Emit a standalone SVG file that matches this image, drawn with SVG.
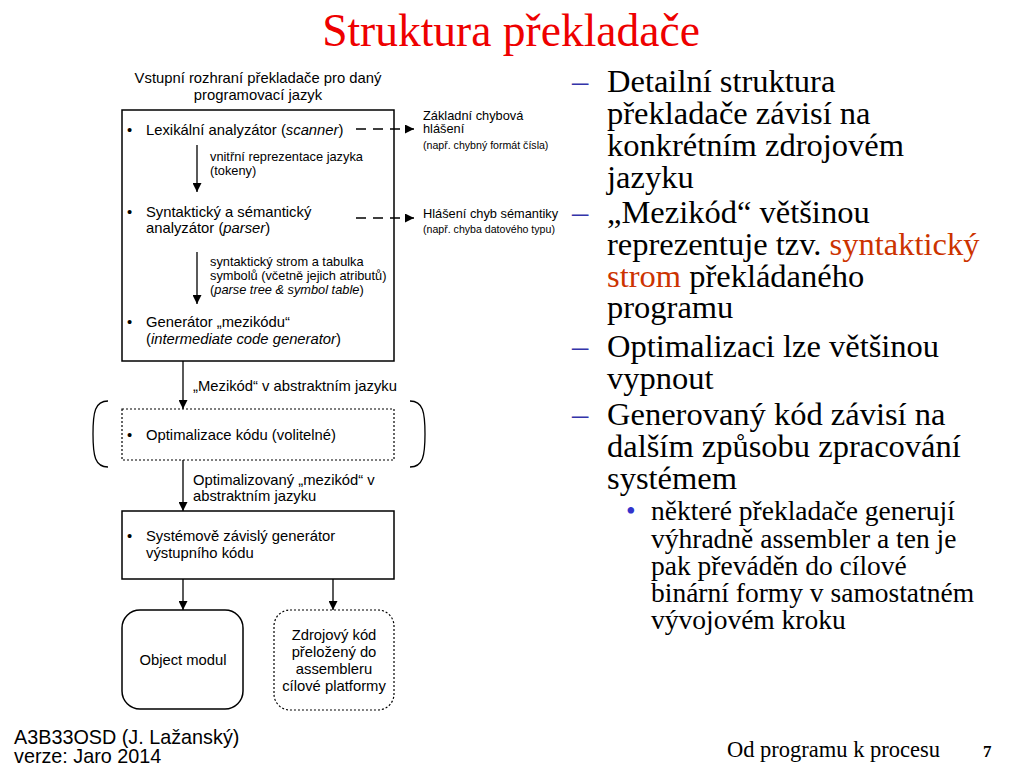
<svg xmlns="http://www.w3.org/2000/svg" width="1024" height="768" viewBox="0 0 1024 768">
<defs>
<marker id="ah" viewBox="0 0 10 10" refX="10" refY="5" markerWidth="9" markerHeight="9" markerUnits="userSpaceOnUse" orient="auto"><path d="M0,0 L10,5 L0,10 z" fill="#000"/></marker>
<style>
.d{font-family:"Liberation Sans",Arial,sans-serif;font-size:14.8px;fill:#000}
.s{font-family:"Liberation Sans",Arial,sans-serif;font-size:12.8px;fill:#000}
.xs{font-family:"Liberation Sans",Arial,sans-serif;font-size:10.6px;fill:#000}
.r{font-family:"Liberation Serif","Times New Roman",serif;font-size:32.5px;fill:#000}
.rs{font-family:"Liberation Serif","Times New Roman",serif;font-size:27.5px;fill:#000}
.box{fill:#fff;stroke:#000;stroke-width:1.5}
.dot{fill:#fff;stroke:#000;stroke-width:1.2;stroke-dasharray:2 2}
.ln{stroke:#000;stroke-width:1.3;fill:none}
.dl{stroke:#000;stroke-width:1.3;fill:none;stroke-dasharray:10 7}
.f{font-family:"Liberation Sans",Arial,sans-serif;font-size:19.8px;fill:#000}
</style>
</defs>
<rect width="1024" height="768" fill="#fff"/>
<text x="511" y="46" text-anchor="middle" style="font-family:'Liberation Serif','Times New Roman',serif;font-size:45.5px;fill:#ee0000">Struktura překladače</text>

<g id="input-label">
<text class="d" x="258" y="83" text-anchor="middle">Vstupní rozhraní překladače pro daný</text>
<text class="d" x="258" y="100" text-anchor="middle">programovací jazyk</text>
</g>

<g id="front-end">
<rect class="box" x="122" y="110" width="272" height="251"/>
<text class="d" x="127" y="135">•</text>
<text class="d" x="146" y="135">Lexikální analyzátor (<tspan font-style="italic">scanner</tspan>)</text>
<text class="s" x="210" y="161">vnitřní reprezentace jazyka</text>
<text class="s" x="210" y="175">(tokeny)</text>
<text class="d" x="127" y="217">•</text>
<text class="d" x="146" y="217">Syntaktický a sémantický</text>
<text class="d" x="146" y="233">analyzátor (<tspan font-style="italic">parser</tspan>)</text>
<text class="s" x="210" y="266">syntaktický strom a tabulka</text>
<text class="s" x="210" y="280">symbolů (včetně jejich atributů)</text>
<text class="s" x="210" y="294">(<tspan font-style="italic">parse tree &amp; symbol table</tspan>)</text>
<text class="d" x="127" y="327">•</text>
<text class="d" x="146" y="327">Generátor „mezikódu“</text>
<text class="d" x="146" y="344">(<tspan font-style="italic">intermediate code generator</tspan>)</text>
</g>

<g id="err-lex">
<text class="s" x="423" y="120">Základní chybová</text>
<text class="s" x="423" y="133">hlášení</text>
<text class="xs" x="423" y="149">(např. chybný formát čísla)</text>
</g>
<g id="err-sem">
<text class="s" x="423" y="218">Hlášení chyb sémantiky</text>
<text class="xs" x="423" y="233">(např. chyba datového typu)</text>
</g>

<g id="optimizer">
<path class="ln" d="M108,401 C95,401 93,412 93,434 C93,456 95,467 108,467"/>
<path class="ln" d="M410,401 C423,401 425,412 425,434 C425,456 423,467 410,467"/>
<rect class="dot" x="122" y="409" width="272" height="51"/>
<text class="d" x="127" y="440">•</text>
<text class="d" x="146" y="440">Optimalizace kódu (volitelné)</text>
</g>

<g id="backend">
<rect class="box" x="122" y="511" width="272" height="68"/>
<text class="d" x="127" y="541">•</text>
<text class="d" x="146" y="541">Systémově závislý generátor</text>
<text class="d" x="146" y="558">výstupního kódu</text>
</g>

<g id="object-modul">
<rect class="box" x="122" y="610" width="121" height="99" rx="18"/>
<text class="d" x="183" y="665" text-anchor="middle">Object modul</text>
</g>

<g id="asm-source">
<rect class="dot" x="274" y="610" width="120" height="100" rx="16"/>
<text class="d" x="334" y="640" text-anchor="middle">Zdrojový kód</text>
<text class="d" x="334" y="657" text-anchor="middle">přeložený do</text>
<text class="d" x="334" y="674" text-anchor="middle">assembleru</text>
<text class="d" x="334" y="691" text-anchor="middle">cílové platformy</text>
</g>

<g id="connectors">
<line class="ln" x1="197" y1="145" x2="197" y2="192" marker-end="url(#ah)"/>
<line class="ln" x1="197" y1="252" x2="197" y2="304" marker-end="url(#ah)"/>
<line class="dl" x1="356" y1="129" x2="414" y2="129" marker-end="url(#ah)"/>
<line class="dl" x1="356" y1="218" x2="414" y2="218" marker-end="url(#ah)"/>
<line class="ln" x1="183" y1="361" x2="183" y2="409" marker-end="url(#ah)"/>
<text class="d" x="193" y="391">„Mezikód“ v abstraktním jazyku</text>
<line class="ln" x1="183" y1="460" x2="183" y2="511" marker-end="url(#ah)"/>
<text class="d" x="193" y="485">Optimalizovaný „mezikód“ v</text>
<text class="d" x="193" y="501">abstraktním jazyku</text>
<line class="ln" x1="183" y1="579" x2="183" y2="610" marker-end="url(#ah)"/>
<line class="ln" x1="333" y1="579" x2="333" y2="610" marker-end="url(#ah)"/>
</g>

<g id="notes">
<text class="r" x="572" y="92" style="fill:#3333aa">–</text>
<text class="r" x="607" y="92">Detailní struktura</text>
<text class="r" x="607" y="124">překladače závisí na</text>
<text class="r" x="607" y="156">konkrétním zdrojovém</text>
<text class="r" x="607" y="188">jazyku</text>
<text class="r" x="572" y="223" style="fill:#3333aa">–</text>
<text class="r" x="607" y="223">„Mezikód“ většinou</text>
<text class="r" x="607" y="255">reprezentuje tzv. <tspan fill="#cc3300">syntaktický</tspan></text>
<text class="r" x="607" y="287"><tspan fill="#cc3300">strom</tspan> překládaného</text>
<text class="r" x="607" y="318">programu</text>
<text class="r" x="572" y="357" style="fill:#3333aa">–</text>
<text class="r" x="607" y="357">Optimalizaci lze většinou</text>
<text class="r" x="607" y="389">vypnout</text>
<text class="r" x="572" y="425" style="fill:#3333aa">–</text>
<text class="r" x="607" y="425">Generovaný kód závisí na</text>
<text class="r" x="607" y="457">dalším způsobu zpracování</text>
<text class="r" x="607" y="489">systémem</text>
<text class="rs" x="626" y="520" style="fill:#3333cc">•</text>
<text class="rs" x="651" y="520">některé překladače generují</text>
<text class="rs" x="651" y="548">výhradně assembler a ten je</text>
<text class="rs" x="651" y="575">pak převáděn do cílové</text>
<text class="rs" x="651" y="602">binární formy v samostatném</text>
<text class="rs" x="651" y="629">vývojovém kroku</text>
</g>

<g id="footer">
<text class="f" x="14" y="744">A3B33OSD (J. Lažanský)</text>
<text class="f" x="14" y="763">verze: Jaro 2014</text>
<text x="727" y="757" style="font-family:'Liberation Serif','Times New Roman',serif;font-size:22.5px;fill:#000">Od programu k procesu</text>
<text x="983" y="757" style="font-family:'Liberation Serif','Times New Roman',serif;font-size:17px;font-weight:bold;fill:#000">7</text>
</g>
</svg>
